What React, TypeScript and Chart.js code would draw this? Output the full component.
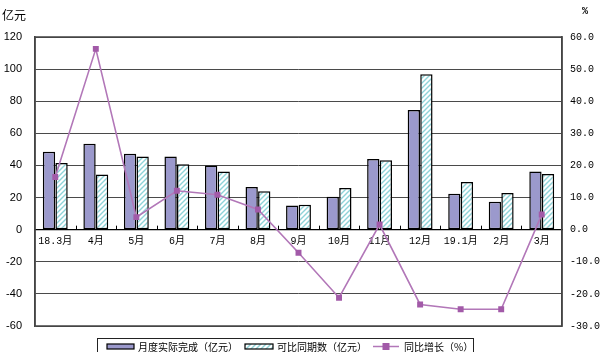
import React, { useEffect, useRef } from 'react';
import { Chart, registerables } from 'chart.js';

Chart.register(...registerables);

const months = ['18.3月', '4月', '5月', '6月', '7月', '8月', '9月', '10月', '11月', '12月', '19.1月', '2月', '3月'];
const actual = [48.5, 53.5, 47.3, 45.6, 40, 26.5, 15, 20.5, 44, 74.6, 22.4, 17.4, 36.2];
const comparable = [41.5, 34.4, 45.6, 40.8, 36.3, 24, 15.5, 26, 43.2, 96.8, 29.7, 22.8, 34.6];
const growth = [16.4, 56.3, 3.9, 12.1, 10.9, 6.3, -7.2, -21.2, 1.6, -23.3, -24.8, -24.8, 4.7];

const seriesNames = ['月度实际完成（亿元）', '可比同期数（亿元）', '同比增长（%）'];
const leftUnit = '亿元';
const rightUnit = '%';

const BAR_FILL = '#9b99cc';
const HATCH_LINE = '#8ed3d8';
const LINE_COLOR = '#b277b8';
const MARKER_COLOR = '#a25aa8';
const GRID = '#4a4a4a';
const CJK = '"Noto Sans CJK SC", sans-serif';
const MONO = '"Liberation Mono", "Noto Sans CJK SC", monospace';

function makeHatch(): CanvasPattern | string {
  const s = 5;
  const c = document.createElement('canvas');
  c.width = s;
  c.height = s;
  const g = c.getContext('2d');
  if (!g) return '#fff';
  g.fillStyle = '#ffffff';
  g.fillRect(0, 0, s, s);
  g.strokeStyle = HATCH_LINE;
  g.lineWidth = 1.4;
  g.beginPath();
  g.moveTo(0, s); g.lineTo(s, 0);
  g.moveTo(-s, s); g.lineTo(s, -s);
  g.moveTo(0, 2 * s); g.lineTo(2 * s, 0);
  g.stroke();
  return g.createPattern(c, 'repeat') || '#fff';
}

export default function App() {
  const ref = useRef<HTMLCanvasElement>(null);

  useEffect(() => {
    if (!ref.current) return;
    const hatch = makeHatch();

    const decor = {
      id: 'decor',
      afterDatasetsDraw(chart: any) {
        const ctx = chart.ctx;
        const a = chart.chartArea;
        const xs = chart.scales.x;
        const y0 = chart.scales.y.getPixelForValue(0);
        ctx.save();
        // category boundary tick marks above zero line
        ctx.strokeStyle = '#000';
        ctx.lineWidth = 1;
        const n = months.length;
        for (let i = 1; i < n; i++) {
          const x = Math.round(xs.left + (i * (xs.right - xs.left)) / n) + 0.5;
          ctx.beginPath();
          ctx.moveTo(x, y0 - 4);
          ctx.lineTo(x, y0);
          ctx.stroke();
        }
        ctx.restore();
      },
      afterDraw(chart: any) {
        const ctx = chart.ctx;
        const a = chart.chartArea;
        ctx.save();
        // plot border
        ctx.strokeStyle = '#444';
        ctx.lineWidth = 1.5;
        ctx.strokeRect(a.left, a.top, a.right - a.left, a.bottom - a.top);

        // unit titles
        ctx.fillStyle = '#000';
        ctx.font = '12px ' + CJK;
        ctx.textBaseline = 'middle';
        ctx.textAlign = 'left';
        ctx.fillText(leftUnit, 2, 15);
        ctx.font = 'bold 10px ' + MONO;
        ctx.fillText(rightUnit, 582, 11);

        // legend box
        ctx.strokeStyle = '#222';
        ctx.lineWidth = 1;
        ctx.strokeRect(97.5, 338.5, 376, 30);
        const ty = 347;
        ctx.font = '10px ' + CJK;
        ctx.textBaseline = 'middle';
        // item 1
        ctx.fillStyle = BAR_FILL;
        ctx.fillRect(107, 344, 27, 5);
        ctx.strokeStyle = '#000';
        ctx.lineWidth = 1.2;
        ctx.strokeRect(107, 344, 27, 5);
        ctx.fillStyle = '#000';
        ctx.fillText(seriesNames[0], 138, ty);
        // item 2
        ctx.fillStyle = hatch as any;
        ctx.fillRect(245, 344, 28, 5);
        ctx.strokeRect(245, 344, 28, 5);
        ctx.fillStyle = '#000';
        ctx.fillText(seriesNames[1], 277, ty);
        // item 3
        ctx.strokeStyle = LINE_COLOR;
        ctx.lineWidth = 1.5;
        ctx.beginPath();
        ctx.moveTo(373, 346.5);
        ctx.lineTo(399, 346.5);
        ctx.stroke();
        ctx.fillStyle = MARKER_COLOR;
        ctx.fillRect(382.5, 343, 7, 7);
        ctx.fillStyle = '#000';
        ctx.fillText(seriesNames[2], 404, ty);
        ctx.restore();
      },
    };

    const chart = new Chart(ref.current, {
      type: 'bar',
      data: {
        labels: months,
        datasets: [
          {
            type: 'line',
            label: seriesNames[2],
            data: growth,
            yAxisID: 'y1',
            borderColor: LINE_COLOR,
            borderWidth: 1.6,
            backgroundColor: MARKER_COLOR,
            pointStyle: 'rect',
            pointRadius: 4.2,
            pointBorderWidth: 0,
            pointBackgroundColor: MARKER_COLOR,
            tension: 0,
            order: 0,
          } as any,
          {
            type: 'bar',
            label: seriesNames[0],
            data: actual,
            yAxisID: 'y',
            backgroundColor: BAR_FILL,
            borderColor: '#000',
            borderWidth: 1.5,
            borderSkipped: false,
            categoryPercentage: 0.62,
            barPercentage: 0.98,
            order: 1,
          },
          {
            type: 'bar',
            label: seriesNames[1],
            data: comparable,
            yAxisID: 'y',
            backgroundColor: hatch as any,
            borderColor: '#000',
            borderWidth: 1.5,
            borderSkipped: false,
            categoryPercentage: 0.62,
            barPercentage: 0.98,
            order: 2,
          },
        ],
      },
      options: {
        responsive: false,
        animation: false,
        layout: { padding: { top: 37, bottom: 26, left: 0, right: 0 } },
        plugins: {
          legend: { display: false },
          tooltip: { enabled: false },
          title: { display: false },
        },
        scales: {
          x: {
            position: { y: 0 } as any,
            offset: true,
            grid: { display: false, drawTicks: false },
            border: { display: true, color: '#000', width: 1.2 },
            ticks: {
              color: '#000',
              font: { family: MONO, size: 10 },
              padding: 6,
              maxRotation: 0,
              autoSkip: false,
            },
          },
          y: {
            position: 'left',
            min: -60,
            max: 120,
            afterFit: (s: any) => { s.width = 35; },
            ticks: {
              stepSize: 20,
              color: '#000',
              font: { family: '"Liberation Sans", Arial, sans-serif', size: 11 },
              padding: 13,
            },
            grid: { color: GRID, lineWidth: 1, drawTicks: false },
            border: { display: true, color: '#444', width: 1.5 },
          },
          y1: {
            position: 'right',
            min: -30,
            max: 60,
            afterFit: (s: any) => { s.width = 38; },
            ticks: {
              stepSize: 10,
              color: '#000',
              font: { family: MONO, size: 10 },
              padding: 8,
              callback: (v: any) => Number(v).toFixed(1),
            },
            grid: { drawOnChartArea: false, drawTicks: false },
            border: { display: true, color: '#444', width: 1.5 },
          },
        },
      },
      plugins: [decor],
    });

    return () => chart.destroy();
  }, []);

  return (
    <div style={{ position: 'fixed', left: 0, top: 0, width: 600, height: 352, overflow: 'hidden', background: '#fff' }}>
      <canvas ref={ref} width={600} height={352} style={{ display: 'block', width: 600, height: 352 }} />
    </div>
  );
}
